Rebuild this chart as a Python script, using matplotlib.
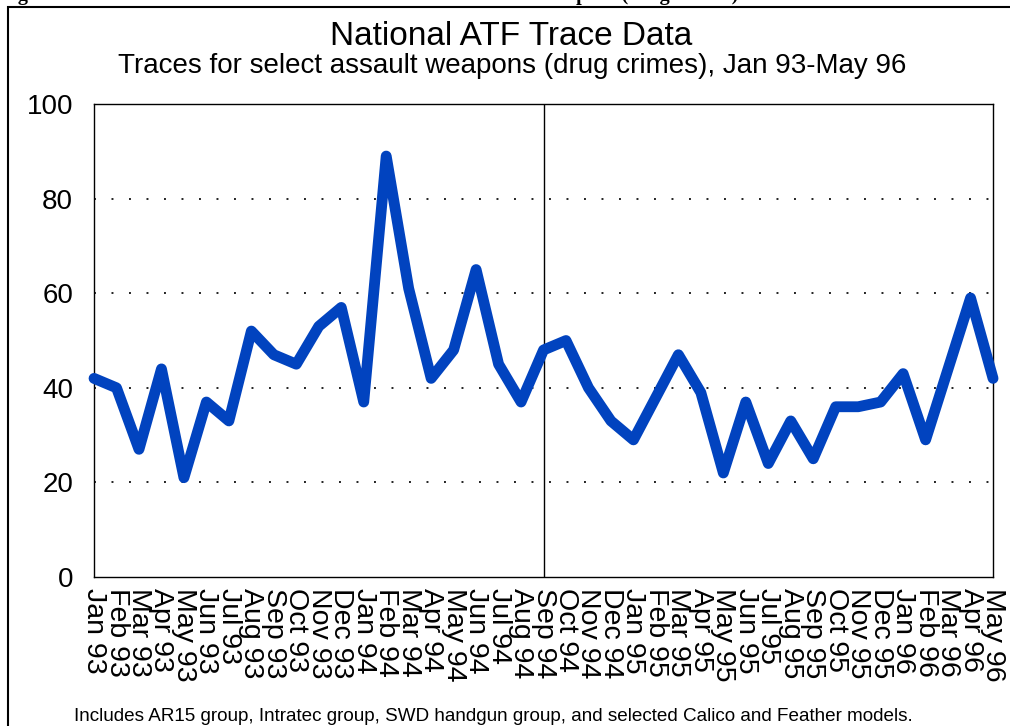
import matplotlib
matplotlib.use("Agg")
import matplotlib.pyplot as plt
from matplotlib.patches import Rectangle

# monthly traces, Jan 93 - May 96
months = ["Jan 93", "Feb 93", "Mar 93", "Apr 93", "May 93", "Jun 93", "Jul 93",
          "Aug 93", "Sep 93", "Oct 93", "Nov 93", "Dec 93",
          "Jan 94", "Feb 94", "Mar 94", "Apr 94", "May 94", "Jun 94", "Jul 94",
          "Aug 94", "Sep 94", "Oct 94", "Nov 94", "Dec 94",
          "Jan 95", "Feb 95", "Mar 95", "Apr 95", "May 95", "Jun 95", "Jul 95",
          "Aug 95", "Sep 95", "Oct 95", "Nov 95", "Dec 95",
          "Jan 96", "Feb 96", "Mar 96", "Apr 96", "May 96"]
traces = [42, 40, 27, 44, 21, 37, 33, 52, 47, 45, 53, 57,
          37, 89, 61, 42, 48, 65, 45, 37, 48, 50, 40, 33,
          29, 38, 47, 39, 22, 37, 24, 33, 25, 36, 36, 37,
          43, 29, 44, 59, 42]
ban_month = "Sep 94"
yticks = [0, 20, 40, 60, 80, 100]

plt.rcParams['font.family'] = ['Liberation Sans', 'DejaVu Sans']

fig = plt.figure(figsize=(10.1, 7.26), dpi=100)
ax = fig.add_axes([0.0931, 0.2052, 0.8901, 0.6515])

x = list(range(len(months)))
ax.plot(x, traces, color='#0143BF', lw=7.8, solid_joinstyle='round',
        solid_capstyle='round', zorder=3, clip_on=False)

ax.axvline(months.index(ban_month), color='black', lw=1.0, zorder=2)

for v in yticks[1:-1]:
    ax.axhline(v, color='#222222', lw=1.4, ls=(0, (1, 8)), zorder=1)

ax.set_xlim(0, len(months) - 1)
ax.set_ylim(0, 100)
ax.set_yticks(yticks)
ax.set_xticks(x)
ax.set_xticklabels(months, rotation=-90, va='top', ha='center', fontsize=20.5)
ax.tick_params(axis='y', length=0, pad=15, labelsize=20)
ax.tick_params(axis='x', length=0, pad=8)
for s in ax.spines.values():
    s.set_linewidth(1.0)

fig.text(0.506, 0.950, "National ATF Trace Data", ha='center', va='center', fontsize=24)
fig.text(0.507, 0.909, "Traces for select assault weapons (drug crimes), Jan 93-May 96",
         ha='center', va='center', fontsize=20)
fig.text(0.488, 0.013, "Includes AR15 group, Intratec group, SWD handgun group, and selected Calico and Feather models.",
         ha='center', va='center', fontsize=13.6)

# cut-off caption of the source page
fig.text(0.0, 0.993, "Figure 5-5:    National ATF trace data:  traces for select assault weapons (drug crimes)",
         ha='left', va='bottom', fontsize=14.5, fontweight='bold', family='Liberation Serif')

# outer border of the figure panel
fig.patches.append(Rectangle((0.0075, -0.05), 1.5, 1.04, transform=fig.transFigure,
                             fill=False, edgecolor='black', lw=1.5))

fig.savefig("out.png", dpi=100)
